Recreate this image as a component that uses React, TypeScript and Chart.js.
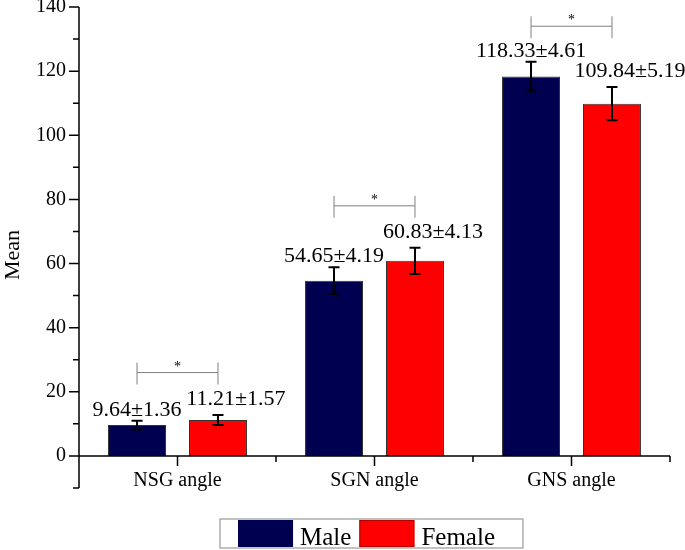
import React, { useEffect, useRef } from 'react';
import { Chart, registerables } from 'chart.js';

Chart.register(...registerables);

// ---- data ----
const categories = ['NSG angle', 'SGN angle', 'GNS angle'];
const seriesNames = ['Male', 'Female'];
const maleMeans = [9.64, 54.65, 118.33];
const maleSD = [1.36, 4.19, 4.61];
const femaleMeans = [11.21, 60.83, 109.84];
const femaleSD = [1.57, 4.13, 5.19];
const significance = ['*', '*', '*'];
const bracketLevels = [26, 78, 134];
const yTickValues = [0, 20, 40, 60, 80, 100, 120, 140];
const yMinorValues = [-10, 10, 30, 50, 70, 90, 110, 130];

const NAVY = '#000050';
const RED = '#ff0000';
const FONT = "'Liberation Serif', 'Times New Roman', Times, serif";

const means = [maleMeans, femaleMeans];
const sds = [maleSD, femaleSD];
const colors = [NAVY, RED];
const labelStyle = [
  { dx: 0, gap: 5 },
  { dx: 18, gap: 10 },
];

const overlayPlugin = {
  id: 'overlay',
  afterDatasetsDraw(chart: any) {
    const ctx: CanvasRenderingContext2D = chart.ctx;
    const xs = chart.scales.x;
    const ys = chart.scales.y;
    const area = chart.chartArea;
    ctx.save();

    // axes
    ctx.strokeStyle = '#000';
    ctx.lineWidth = 1.5;
    const y0 = ys.getPixelForValue(0);
    ctx.beginPath();
    ctx.moveTo(area.left, area.top);
    ctx.lineTo(area.left, area.bottom);
    ctx.moveTo(area.left, y0);
    ctx.lineTo(area.right, y0);
    yTickValues.forEach((v) => {
      const py = ys.getPixelForValue(v);
      ctx.moveTo(area.left - 10, py);
      ctx.lineTo(area.left, py);
    });
    yMinorValues.forEach((v) => {
      const py = ys.getPixelForValue(v);
      ctx.moveTo(area.left - 6, py);
      ctx.lineTo(area.left, py);
    });
    categories.forEach((_, i) => {
      const px = xs.getPixelForValue(i);
      ctx.moveTo(px, y0);
      ctx.lineTo(px, y0 + 10);
    });
    for (let i = 0; i <= categories.length; i++) {
      const px = xs.getPixelForValue(i - 0.5);
      ctx.moveTo(px, y0);
      ctx.lineTo(px, y0 + 6);
    }
    ctx.stroke();

    // error bars + value labels
    for (let d = 0; d < 2; d++) {
      const meta = chart.getDatasetMeta(d);
      meta.data.forEach((el: any, j: number) => {
        const m = means[d][j];
        const s = sds[d][j];
        const top = ys.getPixelForValue(m + s);
        const bot = ys.getPixelForValue(m - s);
        ctx.strokeStyle = '#000';
        ctx.lineWidth = 2;
        ctx.beginPath();
        ctx.moveTo(el.x, top);
        ctx.lineTo(el.x, bot);
        ctx.moveTo(el.x - 5.5, top);
        ctx.lineTo(el.x + 5.5, top);
        ctx.moveTo(el.x - 5.5, bot);
        ctx.lineTo(el.x + 5.5, bot);
        ctx.stroke();

        ctx.fillStyle = '#000';
        ctx.font = `22px ${FONT}`;
        ctx.textAlign = 'center';
        ctx.textBaseline = 'alphabetic';
        ctx.fillText(
          `${m.toFixed(2)}±${s.toFixed(2)}`,
          el.x + labelStyle[d].dx,
          top - labelStyle[d].gap
        );
      });
    }

    // significance brackets
    const m0 = chart.getDatasetMeta(0).data;
    const m1 = chart.getDatasetMeta(1).data;
    categories.forEach((_, j) => {
      const xa = m0[j].x;
      const xb = m1[j].x;
      const yl = ys.getPixelForValue(bracketLevels[j]);
      ctx.strokeStyle = '#808080';
      ctx.lineWidth = 1;
      ctx.beginPath();
      ctx.moveTo(xa, yl);
      ctx.lineTo(xb, yl);
      ctx.moveTo(xa, yl - 10);
      ctx.lineTo(xa, yl + 12);
      ctx.moveTo(xb, yl - 10);
      ctx.lineTo(xb, yl + 12);
      ctx.stroke();
      ctx.fillStyle = '#000';
      ctx.font = `14px ${FONT}`;
      ctx.textAlign = 'center';
      ctx.textBaseline = 'alphabetic';
      ctx.fillText(significance[j], (xa + xb) / 2, yl - 2);
    });

    // y title
    ctx.save();
    ctx.translate(13, 255);
    ctx.rotate(-Math.PI / 2);
    ctx.font = `22px ${FONT}`;
    ctx.fillStyle = '#000';
    ctx.textAlign = 'center';
    ctx.textBaseline = 'middle';
    ctx.fillText('Mean', 0, 0);
    ctx.restore();

    // legend
    ctx.font = `25px ${FONT}`;
    const padL = 18, sw = 55, gapT = 7, gapItem = 8, padR = 28;
    const tw = seriesNames.map((n) => ctx.measureText(n).width);
    const total = padL + padR + seriesNames.length * (sw + gapT) + tw.reduce((a, b) => a + b, 0) + gapItem * (seriesNames.length - 1);
    const cx = (area.left + area.right) / 2 - 3;
    const bx = cx - total / 2;
    const by = 519;
    const bh = 29;
    ctx.strokeStyle = '#999';
    ctx.lineWidth = 1.2;
    ctx.strokeRect(bx, by, total, bh);
    let cur = bx + padL;
    seriesNames.forEach((n, i) => {
      ctx.fillStyle = colors[i];
      ctx.fillRect(cur, by + 1, sw, bh - 2);
      ctx.strokeStyle = i === 0 ? NAVY : '#b00000';
      ctx.lineWidth = 1;
      ctx.strokeRect(cur + 0.5, by + 1.5, sw - 1, bh - 3);
      cur += sw + gapT;
      ctx.fillStyle = '#000';
      ctx.textAlign = 'left';
      ctx.textBaseline = 'alphabetic';
      ctx.fillText(n, cur, by + 26);
      cur += tw[i] + gapItem;
    });

    ctx.restore();
  },
};

export default function App() {
  const ref = useRef<HTMLCanvasElement | null>(null);

  useEffect(() => {
    if (!ref.current) return;
    Chart.defaults.font.family = FONT;
    const chart = new Chart(ref.current, {
      type: 'bar',
      data: {
        labels: categories,
        datasets: seriesNames.map((name, i) => ({
          label: name,
          data: means[i],
          backgroundColor: colors[i],
          borderColor: '#333333',
          borderWidth: 1,
          categoryPercentage: 0.822,
          barPercentage: 0.716,
        })),
      },
      options: {
        responsive: false,
        animation: false,
        layout: { padding: { left: 0, top: 7, right: 15, bottom: 62 } },
        plugins: {
          legend: { display: false },
          tooltip: { enabled: false },
        },
        scales: {
          x: {
            type: 'category',
            position: { y: 0 } as any,
            grid: { display: false, drawTicks: false },
            border: { display: false },
            ticks: { font: { size: 20, family: FONT }, color: '#000', padding: 13 },
          },
          y: {
            type: 'linear',
            position: 'left',
            min: -10,
            max: 140,
            grid: { display: false, drawTicks: false },
            border: { display: false },
            ticks: {
              font: { size: 20, family: FONT },
              color: '#000',
              padding: 13,
              autoSkip: false,
            },
            afterBuildTicks: (scale: any) => {
              scale.ticks = yTickValues.map((v) => ({ value: v }));
            },
            afterFit: (scale: any) => {
              scale.width = 79;
              scale.paddingTop = 0;
              scale.paddingBottom = 0;
            },
          },
        },
      },
      plugins: [overlayPlugin],
    });
    return () => chart.destroy();
  }, []);

  return (
    <div style={{ position: 'fixed', left: 0, top: 0, width: 685, height: 550, background: '#fff' }}>
      <canvas ref={ref} width={685} height={550} style={{ display: 'block' }} />
    </div>
  );
}
